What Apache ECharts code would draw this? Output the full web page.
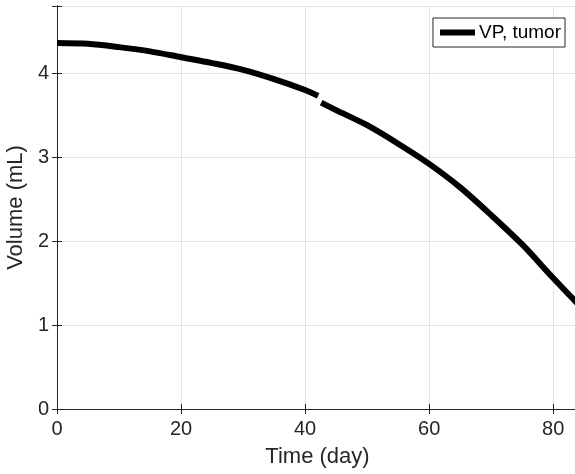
<!DOCTYPE html>
<html>
<head>
<meta charset="utf-8">
<script src="https://cdn.jsdelivr.net/npm/echarts@6/dist/echarts.min.js"></script>
<style>
  html, body { margin: 0; padding: 0; background: #fff; }
  #chart { width: 575px; height: 474px; }
</style>
</head>
<body>
<div id="chart"></div>
<script>
  // values; null = the small break in the curve near day 42
  const days = [0, 5, 10, 15, 20, 25, 30, 35, 40, 42.1, 42.3, 42.6, 45, 50, 55, 60, 65, 70, 75, 80, 84];
  const volume = [4.36, 4.35, 4.31, 4.26, 4.19, 4.12, 4.04, 3.93, 3.80, 3.73, null, 3.65, 3.56, 3.38, 3.16, 2.92, 2.64, 2.31, 1.96, 1.56, 1.25];
  const xTicks = [0, 20, 40, 60, 80];
  const yTicks = [0, 1, 2, 3, 4];

  const axisColor = '#262626';
  const gridColor = '#e3e3e3';
  const font = 'Liberation Sans, Arial, sans-serif';

  const points = days.map((d, i) => [d, volume[i] === null ? '-' : volume[i]]);

  const chart = echarts.init(document.getElementById('chart'));

  const baseX = {
    type: 'value',
    min: 0,
    max: 84,
    interval: 20,
    axisLine: { show: true, lineStyle: { color: axisColor, width: 1 } },
    axisTick: { show: true, inside: true, length: 5, lineStyle: { color: axisColor } },
  };
  const baseY = {
    type: 'value',
    min: 0,
    max: 4.8,
    interval: 1,
    axisLine: { show: true, lineStyle: { color: axisColor, width: 1 } },
    axisTick: { show: true, inside: true, length: 5, lineStyle: { color: axisColor } },
  };

  chart.setOption({
    animation: false,
    textStyle: { fontFamily: font },
    grid: { left: 57, right: -3, top: 6, bottom: 65, outerBoundsMode: 'none', containLabel: false },
    legend: {
      right: 10,
      top: 18,
      data: ['VP, tumor'],
      icon: 'rect',
      itemWidth: 35,
      itemHeight: 6,
      itemGap: 4,
      padding: [5, 4, 5, 7],
      backgroundColor: '#fff',
      borderColor: axisColor,
      borderWidth: 1,
      borderRadius: 0,
      textStyle: { color: '#000', fontSize: 19, fontFamily: font, padding: [0, 0, 0, -1] },
    },
    xAxis: [
      {
        ...baseX,
        position: 'bottom',
        name: 'Time (day)',
        nameLocation: 'middle',
        nameGap: 37,
        nameTextStyle: { color: axisColor, fontSize: 22, fontFamily: font },
        axisLabel: {
          color: axisColor, fontSize: 20, fontFamily: font, margin: 10,
          formatter: v => (xTicks.includes(v) ? String(v) : ''),
        },
        splitLine: { show: true, lineStyle: { color: gridColor, width: 1 } },
      },
      {
        ...baseX,
        position: 'top',
        axisLabel: { show: false },
        splitLine: { show: false },
      },
    ],
    yAxis: [
      {
        ...baseY,
        position: 'left',
        name: 'Volume (mL)',
        nameLocation: 'middle',
        nameGap: 28,
        nameTextStyle: { color: axisColor, fontSize: 22, fontFamily: font },
        axisLabel: {
          color: axisColor, fontSize: 20, fontFamily: font, margin: 8,
          formatter: v => (yTicks.includes(v) ? String(v) : ''),
        },
        splitLine: { show: true, lineStyle: { color: gridColor, width: 1 } },
      },
      {
        ...baseY,
        position: 'right',
        axisLabel: { show: false },
        splitLine: { show: false },
      },
    ],
    series: [
      {
        name: 'VP, tumor',
        type: 'line',
        data: points,
        smooth: 0.3,
        connectNulls: false,
        showSymbol: false,
        symbol: 'none',
        color: '#000',
        lineStyle: { color: '#000', width: 6 },
        itemStyle: { color: '#000' },
        clip: true,
      },
    ],
  });
</script>
</body>
</html>
